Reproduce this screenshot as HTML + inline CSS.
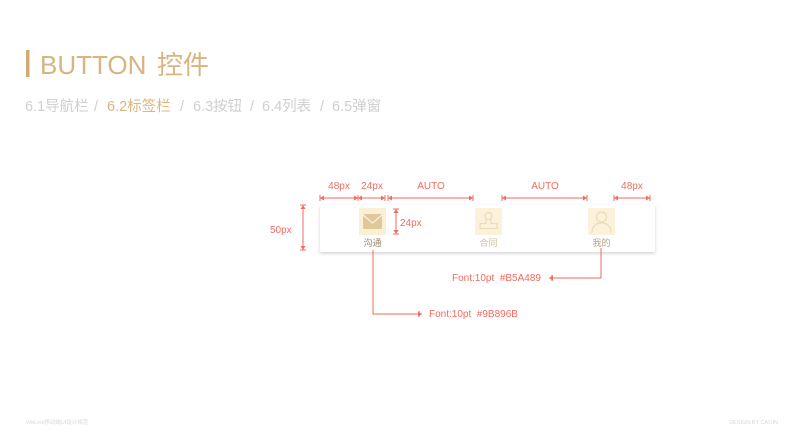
<!DOCTYPE html>
<html><head><meta charset="utf-8"><style>
html,body{margin:0;padding:0;background:#fff;}
body{width:800px;height:444px;overflow:hidden;position:relative;font-family:"Liberation Sans","Noto Sans CJK SC",sans-serif;}
</style></head><body>
<svg width="800" height="444" xmlns="http://www.w3.org/2000/svg" style="position:absolute;left:0;top:0" font-family="Liberation Sans, Noto Sans CJK SC, sans-serif">
<defs>
<filter id="sh" x="-5%" y="-30%" width="110%" height="160%"><feDropShadow dx="0" dy="1.5" stdDeviation="1.5" flood-color="#000" flood-opacity="0.18"/></filter>
</defs>
<rect x="26" y="50" width="3.5" height="27" fill="#d4ab6e"/>
<text x="40" y="74" font-size="26" fill="#d8b47f">BUTTON</text>
<text x="157" y="74" font-size="26" fill="#d8b47f">控件</text>
<g font-size="14.5" fill="#cfcfcf">
<text x="25" y="111">6.1导航栏</text>
<text x="94" y="111">/</text>
<text x="107" y="111" fill="#dcb57e">6.2标签栏</text>
<text x="180" y="111">/</text>
<text x="193" y="111">6.3按钮</text>
<text x="250" y="111">/</text>
<text x="262" y="111">6.4列表</text>
<text x="320" y="111">/</text>
<text x="332" y="111">6.5弹窗</text>
</g>

<rect x="320" y="205" width="335" height="47" fill="#fff" filter="url(#sh)"/>
<rect x="359" y="208" width="27" height="27" fill="#fbf0d6"/>
<rect x="363" y="214" width="19" height="15" rx="1.5" fill="#e0c89a"/>
<path d="M363 215 L372.5 223 L382 215" stroke="#fbf0d6" stroke-width="1.4" fill="none"/>
<rect x="475" y="208" width="27" height="27" fill="#fcf2dc"/>
<g stroke="#ecdcb8" stroke-width="1.3" fill="none"><circle cx="488.5" cy="216" r="3.5"/><path d="M486 219.5v4h-6v5h17v-5h-6v-4"/></g>
<rect x="588" y="208" width="27" height="27" fill="#fcf2dc"/>
<g stroke="#ecdcb8" stroke-width="1.3" fill="none"><circle cx="601.5" cy="217" r="5"/><path d="M592 233c0-7 4-10 9.5-10s9.5 3 9.5 10"/></g>
<text x="372.5" y="246" font-size="9" fill="#9b896b" text-anchor="middle">沟通</text>
<text x="488.5" y="246" font-size="9" fill="#cfc3ac" text-anchor="middle">合同</text>
<text x="601.5" y="246" font-size="9" fill="#b5a489" text-anchor="middle">我的</text>

<g stroke="#f26b5f" stroke-width="1" fill="none">
<line x1="320" y1="198" x2="385" y2="198"/>
<line x1="388" y1="198" x2="473" y2="198"/>
<line x1="502" y1="198" x2="587" y2="198"/>
<line x1="614" y1="198" x2="650" y2="198"/>
<path d="M320 195v6M358 195v6M385 195v6M388 195v6M473 195v6M502 195v6M587 195v6M614 195v6M650 195v6"/>
<line x1="303" y1="205" x2="303" y2="250"/>
<path d="M300 205h6M300 250h6"/>
<line x1="396" y1="209" x2="396" y2="234"/>
<path d="M393 209h6M393 234h6"/>
<path d="M373 250V314H422"/>
<path d="M419 311v6"/>
<path d="M601 248V278H549"/>
<path d="M552 275v6"/>
</g>
<g fill="#f26b5f">
<path d="M320 198l4-2.5v5zM358 198l-4-2.5v5zM358 198l4-2.5v5zM385 198l-4-2.5v5zM388 198l4-2.5v5zM473 198l-4-2.5v5zM502 198l4-2.5v5zM587 198l-4-2.5v5zM614 198l4-2.5v5zM650 198l-4-2.5v5z"/>
<path d="M303 205l-2.5 4h5zM303 250l-2.5-4h5zM396 209l-2.5 4h5zM396 234l-2.5-4h5z"/>
<path d="M422 314l-4-2.5v5zM549 278l4-2.5v5z"/>
</g>
<g font-size="10" fill="#f26b5f">
<text x="339" y="189" text-anchor="middle">48px</text>
<text x="372" y="189" text-anchor="middle">24px</text>
<text x="431" y="189" text-anchor="middle">AUTO</text>
<text x="545" y="189" text-anchor="middle">AUTO</text>
<text x="632" y="189" text-anchor="middle">48px</text>
<text x="270" y="233">50px</text>
<text x="400" y="226">24px</text>
<text x="452" y="281">Font:10pt&#160;&#160;#B5A489</text>
<text x="429" y="317">Font:10pt&#160;&#160;#9B896B</text>
</g>
<text x="26" y="424" font-size="5.5" fill="#d8d8d8">WeLink移动端UI设计规范</text>
<text x="778" y="424" font-size="5.5" fill="#d8d8d8" text-anchor="end">DESIGN BY CAOIN</text>
</svg>
</body></html>
